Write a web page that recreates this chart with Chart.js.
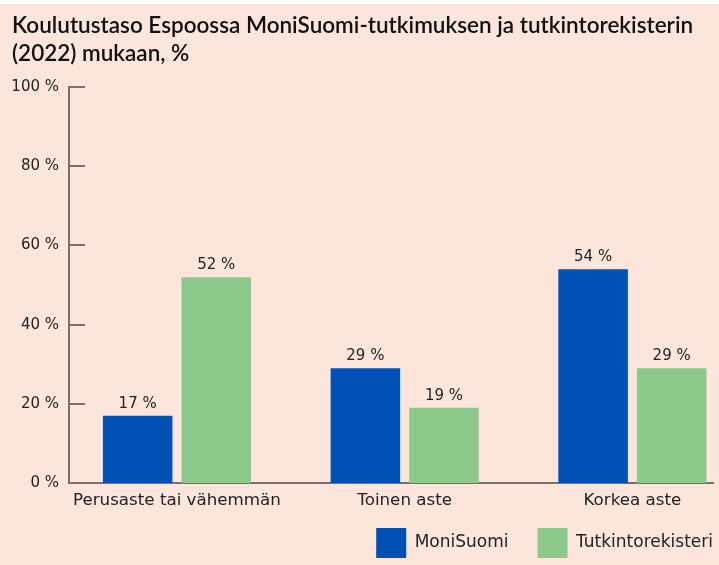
<!DOCTYPE html>
<html>
<head>
<meta charset="utf-8">
<script src="https://cdn.jsdelivr.net/npm/chart.js@4"></script>
<style>
  html, body { margin: 0; padding: 0; background: #ffffff; }
  #wrap { position: absolute; left: 0; top: 4px; width: 719px; height: 561px; background: #fce6dc; }
</style>
</head>
<body>
<div id="wrap"><canvas id="chart"></canvas></div>
<script>
// Data
const categories = ["Perusaste tai vähemmän", "Toinen aste", "Korkea aste"];
const moniSuomi = [17, 29, 54];
const tutkintorekisteri = [52, 19, 29];
const yTicks = [0, 20, 40, 60, 80, 100];
const titleLines = ["Koulutustaso Espoossa MoniSuomi-tutkimuksen ja tutkintorekisterin", "(2022) mukaan, %"];

const axisColor = "#7b706b";
const textColor = "#222222";
const legendGap = 29;
const legendBox = 30;
const legendBoxTop = 524;

// short tick marks pointing into the plot, like the original
const innerTicks = {
  id: "innerTicks",
  afterDraw(chart) {
    const y = chart.scales.y;
    const ctx = chart.ctx;
    ctx.save();
    ctx.strokeStyle = axisColor;
    ctx.lineWidth = 2;
    y.ticks.forEach(t => {
      const py = Math.round(y.getPixelForValue(t.value));
      ctx.beginPath();
      ctx.moveTo(chart.chartArea.left, py);
      ctx.lineTo(chart.chartArea.left + 16, py);
      ctx.stroke();
    });
    ctx.restore();
  }
};

// value labels above the bars
const barLabels = {
  id: "barLabels",
  afterDatasetsDraw(chart) {
    const ctx = chart.ctx;
    ctx.save();
    ctx.font = "15px 'DejaVu Sans'";
    ctx.fillStyle = textColor;
    ctx.textAlign = "center";
    ctx.textBaseline = "alphabetic";
    chart.data.datasets.forEach((ds, i) => {
      chart.getDatasetMeta(i).data.forEach((bar, j) => {
        ctx.fillText(ds.data[j].y + " %", bar.x, bar.y - 8);
      });
    });
    ctx.restore();
  }
};

// legend sits flush with the right edge and a bit higher than Chart.js puts it
const legendShift = {
  id: "legendShift",
  afterLayout(chart) {
    const lg = chart.legend;
    if (!lg) return;
    lg.left += legendGap;
    lg.right += legendGap;
    lg.top = legendBoxTop - legendGap;
    lg.height = legendGap + legendBox + 10;
    lg.bottom = lg.top + lg.height;
  }
};

const ctx = document.getElementById("chart").getContext("2d");

const myChart = new Chart(ctx, {
  type: "bar",
  data: {
    datasets: [
      {
        label: "MoniSuomi",
        data: moniSuomi.map((v, i) => ({ x: i, y: v })),
        backgroundColor: "#0050b5",
      },
      {
        label: "Tutkintorekisteri",
        data: tutkintorekisteri.map((v, i) => ({ x: i, y: v })),
        backgroundColor: "#8cc889",
      },
    ],
  },
  options: {
    responsive: true,
    maintainAspectRatio: false,
    animation: false,
    categoryPercentage: 0.69,
    barPercentage: 0.885,
    layout: { padding: { left: 12, right: 6, top: 7, bottom: 0 } },
    plugins: {
      title: {
        display: true,
        text: titleLines,
        align: "start",
        color: "#111111",
        font: { family: "Lato", size: 22.5, weight: "600", lineHeight: 1.27 },
        padding: { top: 0, bottom: 19 },
      },
      legend: {
        position: "bottom",
        align: "end",
        maxHeight: 48,
        labels: {
          boxWidth: legendBox,
          boxHeight: legendBox,
          padding: legendGap,
          color: textColor,
          font: { family: "DejaVu Sans", size: 17 },
        },
      },
      tooltip: { enabled: false },
    },
    scales: {
      x: {
        type: "linear",
        min: -0.474,
        max: 2.354,
        offset: false,
        afterBuildTicks: scale => {
          scale.ticks = categories.map((c, i) => ({ value: i }));
        },
        afterFit: scale => { scale.height = 34; },
        ticks: {
          autoSkip: false,
          maxRotation: 0,
          padding: 8,
          color: textColor,
          font: { family: "DejaVu Sans", size: 16.7 },
          callback: v => categories[v],
        },
        grid: { display: false, drawTicks: false },
        border: { color: axisColor, width: 2 },
      },
      y: {
        min: 0,
        max: 100,
        afterBuildTicks: scale => {
          scale.ticks = yTicks.map(v => ({ value: v }));
        },
        afterFit: scale => { scale.width = 57; },
        ticks: {
          padding: 10,
          color: textColor,
          font: { family: "DejaVu Sans", size: 15 },
          callback: v => v + " %",
        },
        grid: { display: false, drawTicks: false },
        border: { color: axisColor, width: 2 },
      },
    },
  },
  plugins: [innerTicks, barLabels, legendShift],
});
</script>
</body>
</html>
